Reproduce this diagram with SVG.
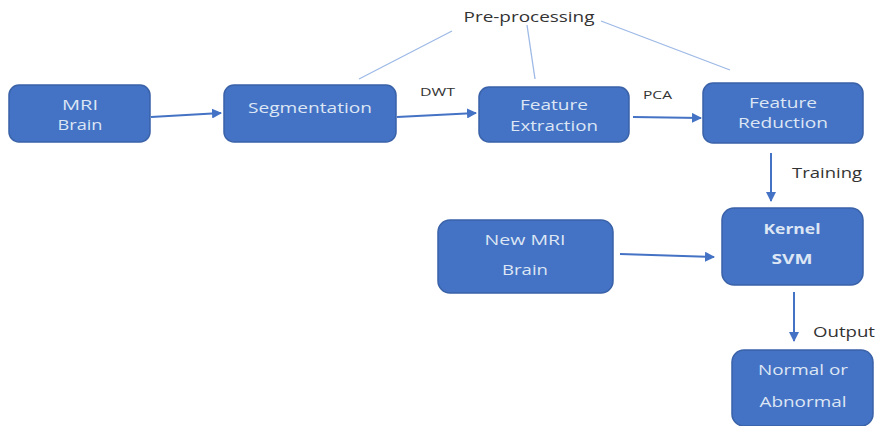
<svg xmlns="http://www.w3.org/2000/svg" width="877" height="426" viewBox="0 0 877 426">
<defs>
<style>
.box{fill:#4472C4;stroke:#3A62A8;stroke-width:1.5}
.bt{fill:#DCE6F4;font-family:"Open Sans","Liberation Sans",sans-serif;font-size:15px;text-anchor:middle}
.bb{font-weight:bold}
.lbl{fill:#333;font-family:"Open Sans","Liberation Sans",sans-serif}
.arr{stroke:#4472C4;stroke-width:2;fill:none;marker-end:url(#ah)}
.thin{stroke:#9DB9E6;stroke-width:1.3;fill:none}
</style>
<marker id="ah" viewBox="0 0 10 10" refX="9" refY="5" markerWidth="5" markerHeight="5" orient="auto" markerUnits="strokeWidth">
<path d="M0,0 L10,5 L0,10 z" fill="#4472C4"/>
</marker>
</defs>
<rect width="877" height="426" fill="#fff"/>
<g id="connectors">
<line class="thin" x1="359" y1="79" x2="452" y2="31"/>
<line class="thin" x1="535" y1="79" x2="527" y2="25"/>
<line class="thin" x1="601" y1="21" x2="730" y2="70"/>
<line class="arr" x1="151" y1="117" x2="221" y2="113"/>
<line class="arr" x1="397" y1="117" x2="476" y2="113"/>
<line class="arr" x1="633" y1="117" x2="701" y2="118"/>
<line class="arr" x1="771" y1="153" x2="771" y2="201"/>
<line class="arr" x1="620" y1="254" x2="714" y2="257"/>
<line class="arr" x1="794" y1="292" x2="794" y2="341"/>
</g>
<g id="preprocessing"><text class="lbl" x="529" y="22" font-size="15" text-anchor="middle" textLength="131" lengthAdjust="spacingAndGlyphs">Pre-processing</text></g>
<g id="lbl-dwt"><text class="lbl" x="420" y="96" font-size="11" textLength="35" lengthAdjust="spacingAndGlyphs">DWT</text></g>
<g id="lbl-pca"><text class="lbl" x="643" y="99" font-size="11" textLength="29" lengthAdjust="spacingAndGlyphs">PCA</text></g>
<g id="lbl-training"><text class="lbl" x="792" y="178" font-size="14" textLength="70" lengthAdjust="spacingAndGlyphs">Training</text></g>
<g id="lbl-output"><text class="lbl" x="813" y="337" font-size="14" textLength="62" lengthAdjust="spacingAndGlyphs">Output</text></g>
<g id="mri-brain">
<rect class="box" x="9" y="85" width="141" height="57" rx="10"/>
<text class="bt" x="80" y="110" textLength="36" lengthAdjust="spacingAndGlyphs">MRI</text>
<text class="bt" x="80" y="130" textLength="45" lengthAdjust="spacingAndGlyphs">Brain</text>
</g>
<g id="segmentation">
<rect class="box" x="224" y="85" width="172" height="57" rx="10"/>
<text class="bt" x="310" y="113" textLength="124" lengthAdjust="spacingAndGlyphs">Segmentation</text>
</g>
<g id="feature-extraction">
<rect class="box" x="479" y="87" width="150" height="55" rx="10"/>
<text class="bt" x="554" y="110" textLength="68" lengthAdjust="spacingAndGlyphs">Feature</text>
<text class="bt" x="554" y="131" textLength="88" lengthAdjust="spacingAndGlyphs">Extraction</text>
</g>
<g id="feature-reduction">
<rect class="box" x="703" y="83" width="160" height="60" rx="10"/>
<text class="bt" x="783" y="108" textLength="68" lengthAdjust="spacingAndGlyphs">Feature</text>
<text class="bt" x="783" y="128" textLength="90" lengthAdjust="spacingAndGlyphs">Reduction</text>
</g>
<g id="new-mri-brain">
<rect class="box" x="438" y="220" width="175" height="73" rx="12"/>
<text class="bt" x="525" y="245" textLength="81" lengthAdjust="spacingAndGlyphs">New MRI</text>
<text class="bt" x="525" y="275" textLength="46" lengthAdjust="spacingAndGlyphs">Brain</text>
</g>
<g id="kernel-svm">
<rect class="box" x="722" y="208" width="141" height="77" rx="12"/>
<text class="bt bb" x="792" y="234" font-size="14" textLength="57" lengthAdjust="spacingAndGlyphs">Kernel</text>
<text class="bt bb" x="792" y="264" textLength="41" lengthAdjust="spacingAndGlyphs">SVM</text>
</g>
<g id="normal-abnormal">
<rect class="box" x="732" y="350" width="141" height="76" rx="12"/>
<text class="bt" x="803" y="375" textLength="90" lengthAdjust="spacingAndGlyphs">Normal or</text>
<text class="bt" x="803" y="407" textLength="87" lengthAdjust="spacingAndGlyphs">Abnormal</text>
</g>
</svg>
